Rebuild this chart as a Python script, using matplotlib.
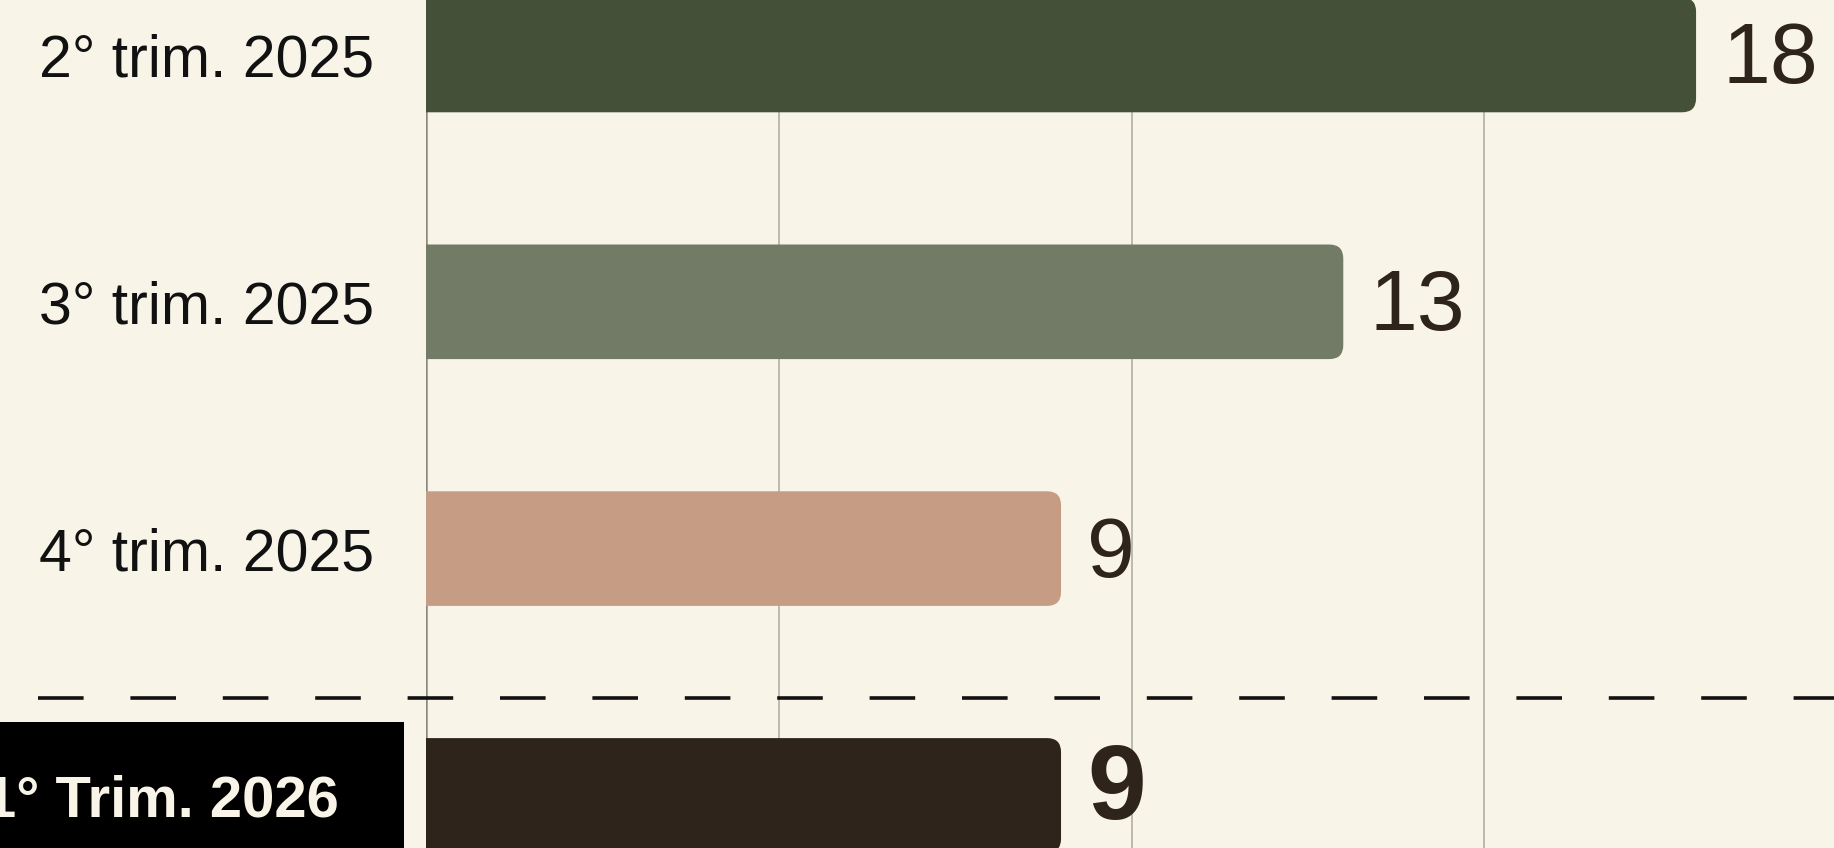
import matplotlib
matplotlib.use("Agg")
import matplotlib.pyplot as plt
from matplotlib.patches import FancyBboxPatch, Rectangle

categories = ["2° trim. 2025", "3° trim. 2025", "4° trim. 2025", "1° Trim. 2026"]
values = [18, 13, 9, 9]
colors = ["#445038", "#717b66", "#c69c84", "#2e241c"]
highlight = [False, False, False, True]
xticks = [0, 5, 10, 15]

BG = "#f8f5e8"
W, H = 1834, 848
fig = plt.figure(figsize=(W / 100, H / 100), dpi=100, facecolor=BG)
ax_left_px = 426
ax = fig.add_axes([ax_left_px / W, 0, 1 - ax_left_px / W, 1])
ax.set_facecolor(BG)

px_per_x = 70.56
px_per_y = 246.8
top_px = 55
ax.set_xlim(0, (W - ax_left_px) / px_per_x)
ax.set_ylim((H - top_px) / px_per_y, -top_px / px_per_y)

for s in ax.spines.values():
    s.set_visible(False)
ax.set_xticks([])
ax.set_yticks([])

for t in xticks[1:]:
    ax.axvline(t, color="#bcbaac", lw=1.4, zorder=0)
ax.axvline(0, color="#8a8a80", lw=1.8, zorder=0)

bar_h = 114.6 / px_per_y
r_px = 14
aspect = (1 / px_per_y) / (1 / px_per_x)
for i, (v, c, hl) in enumerate(zip(values, colors, highlight)):
    p = FancyBboxPatch((-1, i - bar_h / 2), v + 1, bar_h,
                       boxstyle=f"round,pad=0,rounding_size={r_px / px_per_x}",
                       mutation_aspect=aspect, fc=c, ec="none", zorder=2)
    ax.add_patch(p)
    dy = (-3.5 if hl else 6) / px_per_y
    ax.text(v + 26 / px_per_x, i + dy, str(v), ha="left", va="center",
            fontsize=76 if hl else 62, fontweight="bold" if hl else "normal",
            color="#2e241c", family="Liberation Sans", zorder=3)

# separator
sep_y = (698 - top_px) / px_per_y
ax.plot([-(ax_left_px - 38) / px_per_x, 25], [sep_y, sep_y], color="#111111",
        lw=2.6, dashes=(45.6 / 2.6 * 0.72, 46.8 / 2.6 * 0.72), clip_on=False, zorder=4)

# category labels
for i, (cat, hl) in enumerate(zip(categories, highlight)):
    yf = 1 - (top_px + 6 + i * px_per_y) / H
    if hl:
        fig.patches.append(Rectangle((-0.01, 0), (403.5 / W) + 0.01, 1 - 721.7 / H,
                                     transform=fig.transFigure, fc="#000000", ec="none"))
        fig.text(339 / W, yf, cat, ha="right", va="center", fontsize=41.8,
                 fontweight="bold", color=BG, family="Liberation Sans")
    else:
        fig.text(374 / W, yf, cat, ha="right", va="center", fontsize=42.5,
                 color="#111111", family="Liberation Sans")

fig.savefig("out.png", dpi=100, facecolor=BG)
